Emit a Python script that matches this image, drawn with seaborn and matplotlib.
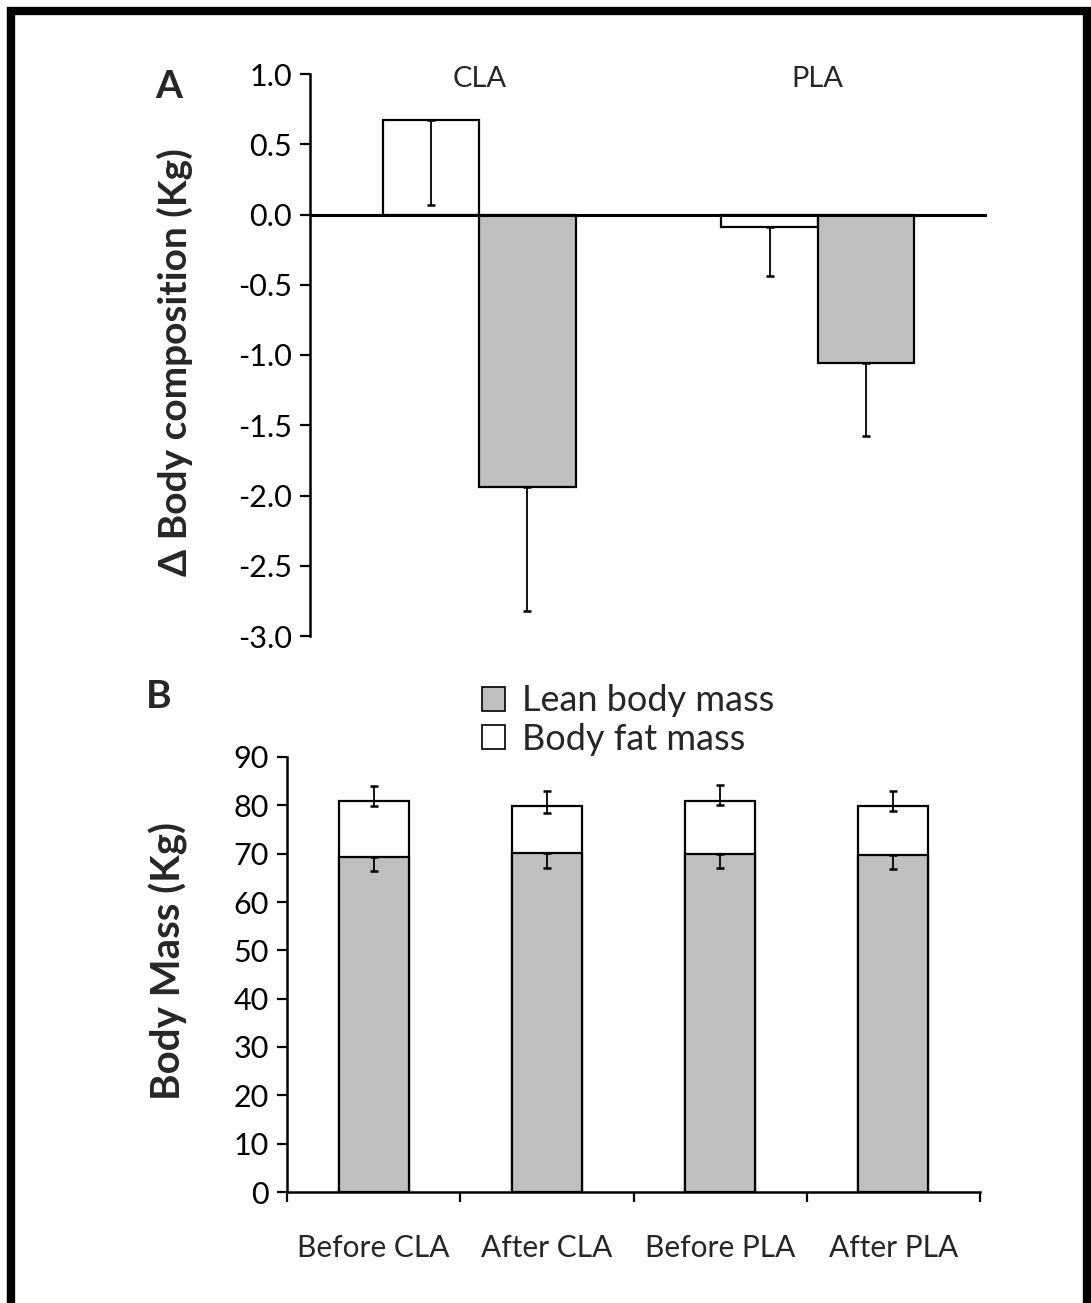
import numpy as np
import pandas as pd
import matplotlib
matplotlib.use("Agg")
import matplotlib.pyplot as plt
import seaborn as sns
from matplotlib.patches import Patch, Rectangle

# panel A: change in body composition (kg)
groups = ["CLA", "PLA"]
delta_lean = [0.67, -0.09]
delta_fat = [-1.94, -1.06]
delta_lean_err = [0.60, 0.35]
delta_fat_err = [0.88, 0.52]

# panel B: body mass (kg)
phases = ["Before CLA", "After CLA", "Before PLA", "After PLA"]
lean_mass = [69.4, 70.1, 69.9, 69.7]
total_mass = [81.0, 79.9, 80.9, 79.9]
lean_err = [3.0, 3.1, 2.9, 2.9]
fat_err_up = [3.1, 3.15, 3.35, 3.1]
fat_err_down = [1.2, 1.5, 0.9, 1.1]

GRAY = "#bfbfbf"

sns.set_style("white")
plt.rcParams["font.family"] = ["Lato", "DejaVu Sans"]

fig = plt.figure(figsize=(10.91, 13.03), dpi=100)
W, H = 1091, 1303

def ax_rect(l, r, t, b):
    return [l / W, 1 - b / H, (r - l) / W, (b - t) / H]

# ---------- panel A ----------
axA = fig.add_axes(ax_rect(310, 987, 74, 636))
dfA = pd.DataFrame({
    "group": groups * 2,
    "part": ["lean"] * 2 + ["fat"] * 2,
    "value": delta_lean + delta_fat,
})
sns.barplot(data=dfA, x="group", y="value", hue="part", order=groups,
            hue_order=["lean", "fat"], palette={"lean": "white", "fat": GRAY},
            width=0.57, edgecolor="black", linewidth=1.6, errorbar=None,
            legend=False, ax=axA)
errsA = delta_lean_err + delta_fat_err
valsA = delta_lean + delta_fat
for p, v, e in zip(axA.patches, valsA, errsA):
    xc = p.get_x() + p.get_width() / 2
    axA.errorbar(xc, v, yerr=[[e], [0]], fmt="none", ecolor="black",
                 elinewidth=1.3, capsize=3, capthick=1.8)
axA.axhline(0, color="black", lw=2.2)
axA.set_ylim(-3.0, 1.0)
axA.set_xlim(-0.5, 1.5)
axA.set_yticks(np.arange(-3.0, 1.01, 0.5))
axA.set_yticklabels([f"{t:.1f}" for t in np.arange(-3.0, 1.01, 0.5)])
for s in ["top", "right", "bottom"]:
    axA.spines[s].set_visible(False)
axA.spines["left"].set_linewidth(1.8)
axA.spines["left"].set_color("black")
axA.tick_params(axis="y", left=True, length=7, width=1.6, labelsize=22, pad=6,
                colors="black")
axA.xaxis.tick_top()
axA.tick_params(axis="x", top=False, bottom=False, length=0, labelsize=21, pad=-13)
axA.set_xlabel("")
axA.set_ylabel("Δ Body composition (Kg)", fontsize=28, fontweight="bold")
axA.yaxis.set_label_coords(-0.173, 0.488)

# ---------- panel B ----------
axB = fig.add_axes(ax_rect(287, 980, 757, 1192))
dfB = pd.DataFrame({"phase": phases, "total": total_mass, "lean": lean_mass})
sns.barplot(data=dfB, x="phase", y="total", order=phases, color="white",
            width=0.405, edgecolor="black", linewidth=1.6, errorbar=None, ax=axB)
n_tot = len(axB.patches)
sns.barplot(data=dfB, x="phase", y="lean", order=phases, color=GRAY,
            saturation=1, width=0.405, edgecolor="black", linewidth=1.6,
            errorbar=None, ax=axB)
for i, p in enumerate(axB.patches[:n_tot]):
    xc = p.get_x() + p.get_width() / 2
    axB.errorbar(xc, total_mass[i], yerr=[[fat_err_down[i]], [fat_err_up[i]]],
                 fmt="none", ecolor="black", elinewidth=1.3, capsize=3, capthick=1.8)
for i, p in enumerate(axB.patches[n_tot:]):
    xc = p.get_x() + p.get_width() / 2
    axB.errorbar(xc, lean_mass[i], yerr=[[lean_err[i]], [0]],
                 fmt="none", ecolor="black", elinewidth=1.3, capsize=3, capthick=1.8)
axB.set_ylim(0, 90)
axB.set_xlim(-0.5, 3.5)
axB.set_yticks(range(0, 91, 10))
for s in ["top", "right"]:
    axB.spines[s].set_visible(False)
for s in ["left", "bottom"]:
    axB.spines[s].set_linewidth(1.8)
    axB.spines[s].set_color("black")
axB.tick_params(axis="y", left=True, length=7, width=1.6, labelsize=22, pad=6,
                colors="black")
axB.set_xticks(np.arange(-0.5, 3.6, 1.0), minor=True)
axB.tick_params(axis="x", which="minor", bottom=True, length=7, width=1.6, color="black")
axB.tick_params(axis="x", which="major", bottom=False, length=0, labelsize=21.5, pad=30)
axB.set_xlabel("")
axB.set_ylabel("Body Mass (Kg)", fontsize=29, fontweight="bold")
axB.yaxis.set_label_coords(-0.143, 0.531)

handles = [Patch(facecolor=GRAY, edgecolor="black", lw=1.2, label="Lean body mass"),
           Patch(facecolor="white", edgecolor="black", lw=1.2, label="Body fat mass")]
fig.legend(handles=handles, loc="center left", bbox_to_anchor=(482 / W, 1 - 720 / H),
           frameon=False, fontsize=26, handlelength=0.65, handleheight=0.65,
           handletextpad=0.45, labelspacing=0.15, borderaxespad=0, borderpad=0)

# panel letters
fig.text(155 / W, 1 - 86 / H, "A", fontsize=28, fontweight="bold", va="center")
fig.text(146 / W, 1 - 697 / H, "B", fontsize=28, fontweight="bold", va="center")

# outer frame (open at the bottom, as in the scan)
fig.patches.append(Rectangle((11 / W, -0.05), (1087 - 11) / W, 1.05 - 11 / H,
                             transform=fig.transFigure, fill=False,
                             edgecolor="black", lw=6))

fig.savefig("out.png", dpi=100)
